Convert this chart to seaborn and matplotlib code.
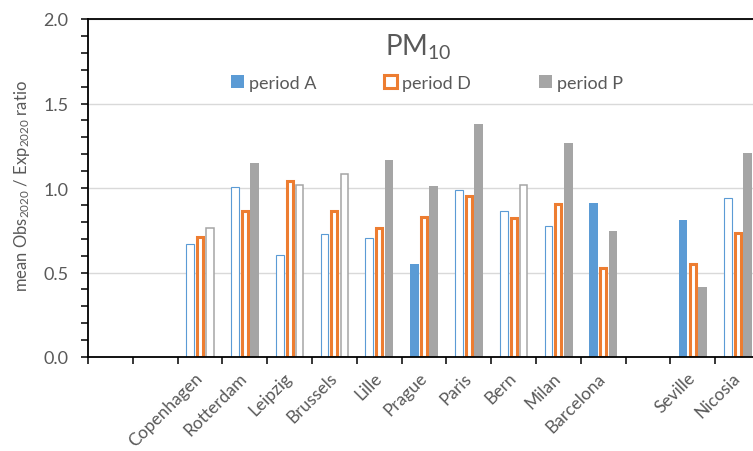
import numpy as np
import pandas as pd
import matplotlib
matplotlib.use("Agg")
import matplotlib.pyplot as plt
from matplotlib.patches import Patch
import seaborn as sns

# ---------------- data ----------------
cities = ["Copenhagen", "Rotterdam", "Leipzig", "Brussels", "Lille", "Prague",
          "Paris", "Bern", "Milan", "Barcelona", "Seville", "Nicosia"]
# category order on the axis (blank slots kept as empty categories)
order = ["_blank1", "_blank2", "Copenhagen", "Rotterdam", "Leipzig", "Brussels",
         "Lille", "Prague", "Paris", "Bern", "Milan", "Barcelona", "_blank3",
         "Seville", "Nicosia"]
periods = ["period A", "period D", "period P"]
period_A = [0.67, 1.01, 0.605, 0.73, 0.71, 0.55, 0.99, 0.87, 0.78, 0.91, 0.81, 0.945]
period_D = [0.72, 0.87, 1.05, 0.87, 0.775, 0.84, 0.96, 0.83, 0.915, 0.535, 0.56, 0.74]
period_P = [0.765, 1.145, 1.025, 1.09, 1.165, 1.01, 1.38, 1.025, 1.265, 0.745, 0.415, 1.205]

# style: whether a bar is drawn solid (True) or as an outline (False)
solid_A = [False, False, False, False, False, True, False, False, False, True, True, False]
solid_D = [False] * 12
solid_P = [False, True, False, False, True, True, True, False, True, True, True, True]

colors = {"period A": "#5B9BD5", "period D": "#ED7D31", "period P": "#A5A5A5"}
edge_w = {"period A": 0.8, "period D": 2.2, "period P": 1.1}
text_col = "#595959"

# ---------------- figure ----------------
sns.set_theme(style="white")
plt.rcParams["font.family"] = ["Lato", "DejaVu Sans"]
plt.rcParams["mathtext.fontset"] = "custom"
plt.rcParams["mathtext.rm"] = "Lato"
plt.rcParams["mathtext.it"] = "Lato:italic"

W, H = 753, 452
fig = plt.figure(figsize=(W / 100, H / 100), dpi=100)
ax_left, ax_right_px = 88, 760
ax_top, ax_bot = 20, 358
ax = fig.add_axes([ax_left / W, (H - ax_bot) / H, (ax_right_px - ax_left) / W, (ax_bot - ax_top) / H])

df = pd.DataFrame({
    "city": cities * 3,
    "period": sum([[p] * len(cities) for p in periods], []),
    "ratio": period_A + period_D + period_P,
})
solid = {"period A": dict(zip(cities, solid_A)),
         "period D": dict(zip(cities, solid_D)),
         "period P": dict(zip(cities, solid_P))}

sns.barplot(data=df, x="city", y="ratio", hue="period", order=order,
            hue_order=periods, palette=colors, width=0.66, gap=0.1,
            legend=False, saturation=1, ax=ax, errorbar=None)

for pi, cont in enumerate(ax.containers):
    p = periods[pi]
    for bar in cont:
        cx = bar.get_x() + bar.get_width() / 2
        idx = int(np.floor(cx + 0.5))
        city = order[idx]
        if city not in solid[p]:
            continue
        if solid[p][city]:
            bar.set_facecolor(colors[p])
            bar.set_edgecolor(colors[p])
            bar.set_linewidth(0)
        else:
            bar.set_facecolor("white")
            bar.set_edgecolor(colors[p])
            bar.set_linewidth(edge_w[p])
            # keep outer extent similar to Excel's inner stroke
            shrink = (edge_w[p] / 72 * 100) / 44.8
            w = bar.get_width() - shrink
            bar.set_x(cx - w / 2)
            bar.set_width(w)
            bar.set_height(bar.get_height() - shrink * 44.8 / 169 / 2)

# axes limits / ticks
ax.set_xlim(-0.5, len(order) - 0.5)
ax.set_ylim(0, 2.0)
ax.set_yticks(np.arange(0, 2.01, 0.5))
ax.set_yticklabels([f"{v:.1f}" for v in np.arange(0, 2.01, 0.5)], color=text_col, fontsize=13)
ax.set_yticks(np.arange(0, 2.01, 0.1), minor=True)
ax.tick_params(axis="y", which="both", direction="out", length=5, width=1.1,
               color="black", left=True, pad=9)

labels = ["" if c.startswith("_") else c for c in order]
ax.set_xticks(np.arange(len(order)))
ax.set_xticklabels(labels, rotation=45, ha="right", va="center", rotation_mode="anchor",
                   color=text_col, fontsize=12.5)
ax.tick_params(axis="x", which="major", length=0, pad=13)
ax.set_xticks(np.arange(-0.5, len(order), 1.0), minor=True)
ax.tick_params(axis="x", which="minor", direction="out", length=5, width=1.1,
               color="black", bottom=True)

ax.yaxis.grid(True, which="major", color="#D9D9D9", linewidth=1.0)
ax.set_axisbelow(True)
for s in ["left", "bottom", "top"]:
    ax.spines[s].set_visible(True)
    ax.spines[s].set_color("black")
    ax.spines[s].set_linewidth(1.3)
ax.spines["right"].set_visible(False)

ax.set_xlabel("")
ax.set_ylabel("mean Obs$_{2020}$ / Exp$_{2020}$ ratio", color=text_col, fontsize=12)
ax.yaxis.set_label_coords(-0.083, 0.51)

# title
fig.text(418 / W, 1 - 56 / H, "PM$_{10}$", ha="center", va="baseline",
         fontsize=20, color=text_col)

# legend
handles = [
    Patch(facecolor=colors["period A"], edgecolor=colors["period A"], linewidth=0, label="period A"),
    Patch(facecolor="white", edgecolor=colors["period D"], linewidth=2.2, label="period D"),
    Patch(facecolor=colors["period P"], edgecolor=colors["period P"], linewidth=0, label="period P"),
]
leg = fig.legend(handles=handles, loc="center", bbox_to_anchor=(427 / W, 1 - 84 / H),
                 ncol=3, frameon=False, fontsize=13, handlelength=0.7,
                 handleheight=0.7, handletextpad=0.3, columnspacing=3.75)
for t in leg.get_texts():
    t.set_color(text_col)

fig.savefig("out.png", dpi=100)
